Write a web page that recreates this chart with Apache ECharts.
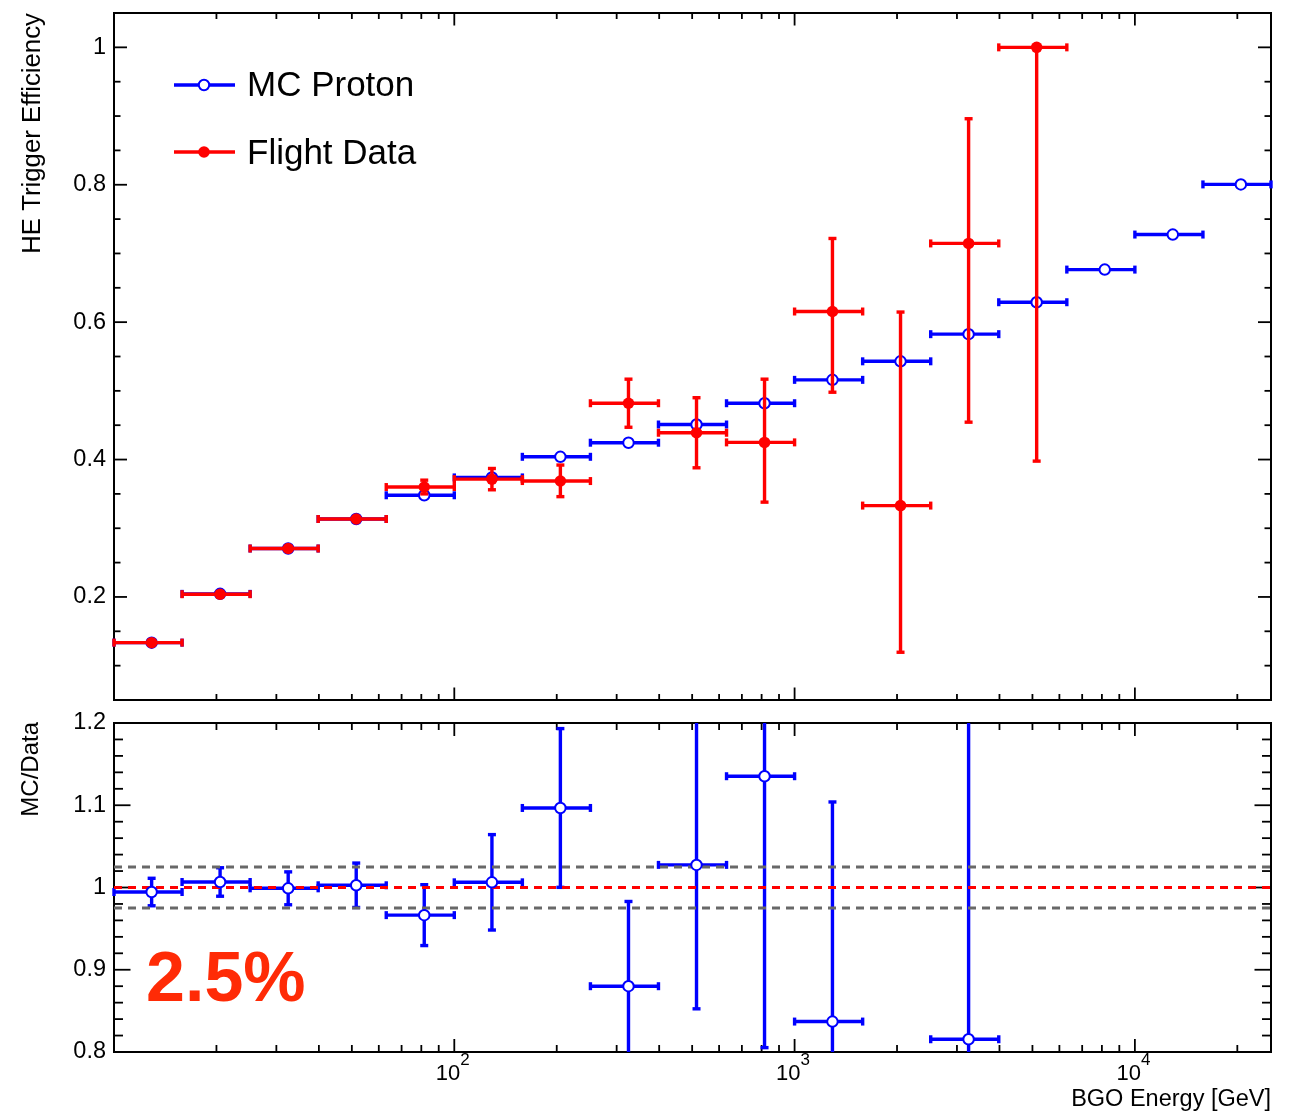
<!DOCTYPE html>
<html>
<head>
<meta charset="utf-8">
<script src="https://cdn.jsdelivr.net/npm/echarts@6/dist/echarts.min.js"></script>
<style>
  html, body { margin: 0; padding: 0; background: #fff; }
  #chart { width: 1301px; height: 1112px; }
</style>
</head>
<body>
<div id="chart"></div>
<script>
// BGO energy bins (GeV): bin edges and the energy at which each bin is plotted
const binEdges = [10, 15.85, 25.12, 39.81, 63.10, 100, 158.5, 251.2, 398.1, 631.0,
                  1000, 1585, 2512, 3981, 6310, 10000, 15849, 25119];
const binCenters = [12.9, 20.5, 32.5, 51.5, 81.6, 129, 205, 325, 515, 816,
                    1292, 2048, 3246, 5145, 8155, 12924, 20484];

// HE trigger efficiency of the MC proton sample
const mcEff = [0.1335, 0.2045, 0.2705, 0.3135, 0.348, 0.374, 0.404, 0.4245, 0.451,
               0.482, 0.516, 0.543, 0.5825, 0.629, 0.6765, 0.7275, 0.8005];

// HE trigger efficiency of the flight data, with lower / upper error bounds
const dataEff  = [0.1335, 0.204, 0.2705, 0.3135, 0.360, 0.3715, 0.3687, 0.482, 0.439,
                  0.425, 0.6155, 0.333, 0.7146, 1.0];
const dataLow  = [0.131, 0.202, 0.268, 0.311, 0.350, 0.356, 0.346, 0.447, 0.388,
                  0.338, 0.498, 0.1195, 0.4544, 0.3977];
const dataHigh = [0.136, 0.206, 0.273, 0.316, 0.370, 0.387, 0.392, 0.517, 0.490,
                  0.517, 0.7218, 0.6147, 0.8961, 1.0];

// MC/Data ratio and its uncertainty (null where the ratio lies off the panel)
const ratio    = [0.9945, 1.0067, 0.999, 1.0027, 0.9664, 1.0063, 1.0967, 0.880, 1.0275,
                  1.1353, 0.837, null, 0.8155];
const ratioErr = [0.0167, 0.0173, 0.020, 0.027, 0.037, 0.058, 0.0965, 0.103, 0.175,
                  0.33, 0.267, null, 0.45];

// Energy axis labels (powers of ten)
const xLabelValues = [100, 1000, 10000];

// Systematic band drawn around unity in the ratio panel
const bandHalfWidth = 0.025;
const bandLabel = '2.5%';

// Axis ranges
const xRange = [10, 25119];
const yRangeTop = [0.05, 1.05];
const yRangeBottom = [0.8, 1.2];

const FONT = 'Liberation Sans, Arial, Helvetica, sans-serif';
const BLUE = '#0000ff';
const RED = '#ff0000';
const BAR_WIDTH = 3.4;

// ---- tick marks (inside, on all four sides of each frame) ----
function buildTicks(yMin, yMax, yMinorStep, yMajorEvery) {
  const items = [];
  for (const d of [10, 100, 1000, 10000]) {
    for (let k = 1; k <= 9; k++) {
      const v = k * d;
      if (v <= xRange[0] || v >= xRange[1]) continue;
      items.push([v, yMin, k === 1 ? 1 : 0]);
    }
  }
  const n0 = Math.round(yMin / yMinorStep), n1 = Math.round(yMax / yMinorStep);
  for (let n = n0 + 1; n < n1; n++) {
    items.push([xRange[0], n * yMinorStep, n % yMajorEvery === 0 ? 3 : 2]);
  }
  return items;
}

function tickRenderer(len, withLabels) {
  return function (params, api) {
    const cs = params.coordSys;
    const kind = api.value(2);
    const v = api.value(0);
    const p = api.coord([v, api.value(1)]);
    const L = len[kind];
    let segs;
    if (kind < 2) {
      segs = [[p[0], cs.y + cs.height, p[0], cs.y + cs.height - L],
              [p[0], cs.y, p[0], cs.y + L]];
    } else {
      segs = [[cs.x, p[1], cs.x + L, p[1]],
              [cs.x + cs.width, p[1], cs.x + cs.width - L, p[1]]];
    }
    const children = segs.map(s => ({
      type: 'line',
      shape: { x1: s[0], y1: s[1], x2: s[2], y2: s[3] },
      style: { stroke: '#000', lineWidth: 1.8 }
    }));
    // "10^n" labels under the decade ticks
    if (withLabels && kind === 1 && xLabelValues.indexOf(v) >= 0) {
      const base = cs.y + cs.height;
      const exp = String(Math.round(Math.log10(v)));
      children.push({
        type: 'text', x: p[0] + 6, y: base + 22,
        style: { text: '10', fontFamily: FONT, fontSize: 22, fill: '#000',
                 align: 'right', verticalAlign: 'middle' }
      });
      children.push({
        type: 'text', x: p[0] + 6, y: base + 8.5,
        style: { text: exp, fontFamily: FONT, fontSize: 17, fill: '#000',
                 align: 'left', verticalAlign: 'middle' }
      });
    }
    return { type: 'group', children: children };
  };
}

// ---- error bars: horizontal = bin width, vertical = uncertainty ----
function errorBarRenderer(color) {
  return function (params, api) {
    const cs = params.coordSys;
    const L = cs.x, R = cs.x + cs.width, T = cs.y, B = cs.y + cs.height;
    const cx = v => Math.min(R, Math.max(L, v));
    const cy = v => Math.min(B, Math.max(T, v));
    const xc = api.value(0), yc = api.value(1);
    const p = api.coord([xc, yc]);
    const xl = api.coord([api.value(2), yc])[0];
    const xr = api.coord([api.value(3), yc])[0];
    const yLo = api.coord([xc, api.value(4)])[1];
    const yHi = api.coord([xc, api.value(5)])[1];
    const cap = 4;
    const kids = [];
    const seg = (x1, y1, x2, y2) => kids.push({
      type: 'line', shape: { x1, y1, x2, y2 },
      style: { stroke: color, lineWidth: BAR_WIDTH }
    });
    seg(cx(xl), p[1], cx(xr), p[1]);
    if (xl >= L - 1) seg(xl, p[1] - cap, xl, p[1] + cap);
    if (xr <= R + 1) seg(xr, p[1] - cap, xr, p[1] + cap);
    if (Math.abs(yLo - yHi) > 0.5) {
      seg(p[0], cy(yLo), p[0], cy(yHi));
      if (yLo <= B + 1) seg(p[0] - cap, yLo, p[0] + cap, yLo);
      if (yHi >= T - 1) seg(p[0] - cap, yHi, p[0] + cap, yHi);
    }
    return { type: 'group', children: kids };
  };
}

const mcItems = binCenters.map((c, i) => [c, mcEff[i], binEdges[i], binEdges[i + 1], mcEff[i], mcEff[i]]);
const dataItems = dataEff.map((v, i) => [binCenters[i], v, binEdges[i], binEdges[i + 1], dataLow[i], dataHigh[i]]);
const ratioItems = [];
ratio.forEach((r, i) => {
  if (r === null) return;
  ratioItems.push([binCenters[i], r, binEdges[i], binEdges[i + 1], r - ratioErr[i], r + ratioErr[i]]);
});

const GRID_LEFT = 114, GRID_RIGHT = 30;

function hLine(y, color) {
  return {
    type: 'line', xAxisIndex: 1, yAxisIndex: 1, z: 3, silent: true,
    showSymbol: false, symbol: 'none', animation: false,
    data: [[xRange[0], y], [xRange[1], y]],
    lineStyle: { color: color, width: 3, type: [8, 6] }
  };
}

const option = {
  animation: false,
  backgroundColor: '#fff',
  grid: [
    { left: GRID_LEFT, right: GRID_RIGHT, top: 13, height: 687, show: true,
      borderColor: '#000', borderWidth: 2, backgroundColor: 'transparent' },
    { left: GRID_LEFT, right: GRID_RIGHT, top: 723, height: 329, show: true,
      borderColor: '#000', borderWidth: 2, backgroundColor: 'transparent' }
  ],
  xAxis: [
    { type: 'log', logBase: 10, gridIndex: 0, min: xRange[0], max: xRange[1],
      axisLine: { show: false }, axisTick: { show: false }, splitLine: { show: false },
      axisLabel: { show: false } },
    { type: 'log', logBase: 10, gridIndex: 1, min: xRange[0], max: xRange[1],
      axisLine: { show: false }, axisTick: { show: false }, splitLine: { show: false },
      axisLabel: { show: false },
      name: 'BGO Energy [GeV]', nameLocation: 'end', nameGap: 0,
      nameTextStyle: { fontFamily: FONT, fontSize: 23.5, color: '#000', align: 'right',
                       verticalAlign: 'top', padding: [36, 0, 0, 0] } }
  ],
  yAxis: [
    { type: 'value', gridIndex: 0, min: yRangeTop[0], max: yRangeTop[1], interval: 0.05,
      axisLine: { show: false }, axisTick: { show: false }, splitLine: { show: false },
      axisLabel: {
        margin: 8, fontFamily: FONT, fontSize: 23.5, color: '#000',
        formatter: function (v) {
          const k = Math.round(v * 20);
          if (k % 4 !== 0 || k < 4 || k > 20) return '';
          return String(k / 20);
        }
      } },
    { type: 'value', gridIndex: 1, min: yRangeBottom[0], max: yRangeBottom[1], interval: 0.1,
      axisLine: { show: false }, axisTick: { show: false }, splitLine: { show: false },
      axisLabel: {
        margin: 8, fontFamily: FONT, fontSize: 23.5, color: '#000',
        formatter: v => String(Math.round(v * 10) / 10)
      } }
  ],
  series: [
    { type: 'custom', xAxisIndex: 0, yAxisIndex: 0, z: 1, silent: true,
      encode: { x: 0, y: 1 },
      data: buildTicks(yRangeTop[0], yRangeTop[1], 0.05, 4),
      renderItem: tickRenderer([6, 12.5, 6.5, 13], false) },
    { type: 'custom', xAxisIndex: 1, yAxisIndex: 1, z: 1, silent: true,
      encode: { x: 0, y: 1 },
      data: buildTicks(yRangeBottom[0], yRangeBottom[1], 0.02, 5),
      renderItem: tickRenderer([7, 13, 9, 16.5], true) },

    { type: 'custom', name: 'MC Proton', xAxisIndex: 0, yAxisIndex: 0, z: 2, silent: true,
      encode: { x: 0, y: 1 }, data: mcItems, renderItem: errorBarRenderer(BLUE) },
    { type: 'scatter', xAxisIndex: 0, yAxisIndex: 0, z: 3, silent: true,
      data: mcItems.map(d => [d[0], d[1]]), symbol: 'circle', symbolSize: 10.5,
      itemStyle: { color: '#fff', borderColor: BLUE, borderWidth: 2, opacity: 1 } },
    { type: 'custom', name: 'Flight Data', xAxisIndex: 0, yAxisIndex: 0, z: 4, silent: true,
      encode: { x: 0, y: 1 }, data: dataItems, renderItem: errorBarRenderer(RED) },
    { type: 'scatter', xAxisIndex: 0, yAxisIndex: 0, z: 5, silent: true,
      data: dataItems.map(d => [d[0], d[1]]), symbol: 'circle', symbolSize: 11.5,
      itemStyle: { color: RED, opacity: 1 } },

    { type: 'custom', xAxisIndex: 1, yAxisIndex: 1, z: 2, silent: true,
      encode: { x: 0, y: 1 }, data: ratioItems, renderItem: errorBarRenderer(BLUE) },
    hLine(1 + bandHalfWidth, '#686868'),
    hLine(1 - bandHalfWidth, '#686868'),
    hLine(1, RED),
    { type: 'scatter', xAxisIndex: 1, yAxisIndex: 1, z: 4, silent: true,
      data: ratioItems.map(d => [d[0], d[1]]), symbol: 'circle', symbolSize: 10.5,
      itemStyle: { color: '#fff', borderColor: BLUE, borderWidth: 2, opacity: 1 } }
  ],
  graphic: [
    // axis titles
    { type: 'text', x: 33, y: 13, rotation: Math.PI / 2, silent: true,
      style: { text: 'HE Trigger Efficiency', fontFamily: FONT, fontSize: 25.8, fill: '#000',
               align: 'right', verticalAlign: 'middle' } },
    { type: 'text', x: 31, y: 722, rotation: Math.PI / 2, silent: true,
      style: { text: 'MC/Data', fontFamily: FONT, fontSize: 24, fill: '#000',
               align: 'right', verticalAlign: 'middle' } },
    // legend
    { type: 'line', silent: true, shape: { x1: 174, y1: 85, x2: 235, y2: 85 },
      style: { stroke: BLUE, lineWidth: 3.4 } },
    { type: 'circle', silent: true, shape: { cx: 204, cy: 85, r: 5.2 },
      style: { fill: '#fff', stroke: BLUE, lineWidth: 2 } },
    { type: 'text', x: 247, y: 86, silent: true,
      style: { text: 'MC Proton', fontFamily: FONT, fontSize: 35, fill: '#000',
               align: 'left', verticalAlign: 'middle' } },
    { type: 'line', silent: true, shape: { x1: 174, y1: 152, x2: 235, y2: 152 },
      style: { stroke: RED, lineWidth: 3.4 } },
    { type: 'circle', silent: true, shape: { cx: 204, cy: 152, r: 5.8 },
      style: { fill: RED } },
    { type: 'text', x: 247, y: 154, silent: true,
      style: { text: 'Flight Data', fontFamily: FONT, fontSize: 35, fill: '#000',
               align: 'left', verticalAlign: 'middle' } },
    // band annotation in the ratio panel
    { type: 'text', x: 146, y: 982, silent: true,
      style: { text: bandLabel, fontFamily: FONT, fontSize: 70, fontWeight: 'bold',
               fill: '#ff2b06', align: 'left', verticalAlign: 'middle' } }
  ]
};

const chart = echarts.init(document.getElementById('chart'), null, { renderer: 'canvas' });
chart.setOption(option);
</script>
</body>
</html>
